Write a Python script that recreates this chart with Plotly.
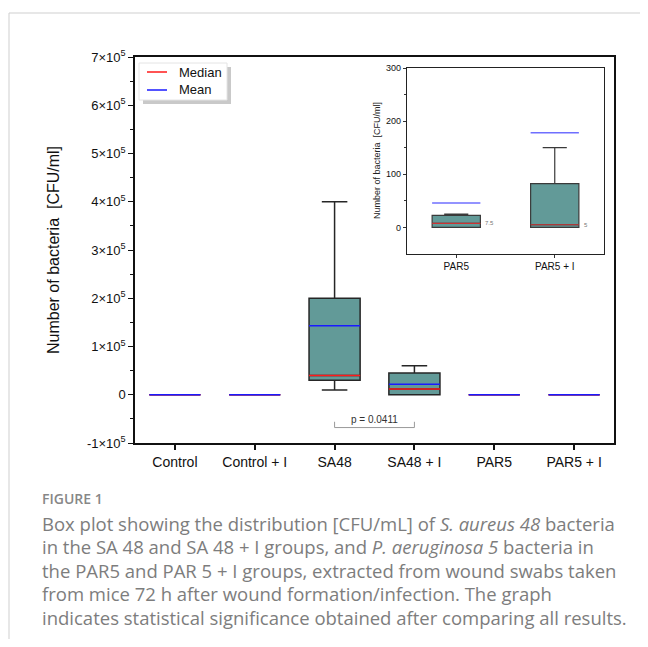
import plotly.graph_objects as go

# ---------------- data ----------------
categories = ["Control", "Control + I", "SA48", "SA48 + I", "PAR5", "PAR5 + I"]
q1_vals = [0, 0, 30000, 0, 0, 0]
median_vals = [0, 0, 40000, 12000, 0, 0]
q3_vals = [0, 0, 200000, 45000, 0, 0]
low_whisker = [0, 0, 10000, 0, 0, 0]
high_whisker = [0, 0, 400000, 60000, 0, 0]
mean_vals = [0, 0, 143000, 22000, 0, 0]

y_tickvals = [-100000, 0, 100000, 200000, 300000, 400000, 500000, 600000, 700000]
y_ticktext = ["-1×10<sup>5</sup>", "0", "1×10<sup>5</sup>", "2×10<sup>5</sup>", "3×10<sup>5</sup>",
              "4×10<sup>5</sup>", "5×10<sup>5</sup>", "6×10<sup>5</sup>", "7×10<sup>5</sup>"]
y_minor = [-50000, 50000, 150000, 250000, 350000, 450000, 550000, 650000]

inset_categories = ["PAR5", "PAR5 + I"]
inset_q1 = [0, 0]
inset_median = [7.5, 5]
inset_q3 = [22.5, 82.5]
inset_low = [0, 0]
inset_high = [25, 150]
inset_mean = [46, 178]
inset_median_labels = ["7.5", "5"]
inset_tickvals = [0, 100, 200, 300]
inset_minor = [50, 150, 250]

p_label = "p = 0.0411"
p_pair = [2, 3]
p_bracket = [-56000, -68000]

legend_names = ["Median", "Mean"]

caption_head = "FIGURE 1"
caption_lines = [
    "Box plot showing the distribution [CFU/mL] of <i>S. aureus 48</i> bacteria",
    "in the SA 48 and SA 48 + I groups, and <i>P. aeruginosa 5</i> bacteria in",
    "the PAR5 and PAR 5 + I groups, extracted from wound swabs taken",
    "from mice 72 h after wound formation/infection. The graph",
    "indicates statistical significance obtained after comparing all results.",
]

# ---------------- layout geometry (page pixels) ----------------
OFF = 8                      # default page body margin
PAGE_W, PAGE_H = 648, 647
W, H = PAGE_W - OFF, PAGE_H - 2 * OFF
L, R, T, B = 135, 614, 57, 443
PW, PH = R - L, B - T


def px(X):
    return (X - L) / PW


def py(Y):
    return (B - Y) / PH


FONT = "Arial, Liberation Sans, sans-serif"
CAP_FONT = "Open Sans, sans-serif"
BOX_FILL = "#629a98"
BOX_LINE = "#262626"
MED_RED = "#ff1a1a"
MEAN_BLUE = "#1a1aff"
BW = 0.64
IBW = 0.49

fig = go.Figure()

# main boxes
fig.add_trace(go.Box(
    x=list(range(len(categories))), q1=q1_vals, median=median_vals, q3=q3_vals,
    lowerfence=low_whisker, upperfence=high_whisker,
    width=BW, whiskerwidth=0.5, fillcolor=BOX_FILL,
    line=dict(color=BOX_LINE, width=1.5), boxpoints=False, showlegend=False,
    hoverinfo="skip", xaxis="x", yaxis="y"))

# median & mean lines (main)
mx, my, ax_, ay_ = [], [], [], []
for i, (md, mn) in enumerate(zip(median_vals, mean_vals)):
    mx += [i - BW / 2, i + BW / 2, None]
    my += [md, md, None]
    ax_ += [i - BW / 2, i + BW / 2, None]
    ay_ += [mn, mn, None]
fig.add_trace(go.Scatter(x=mx, y=my, mode="lines", line=dict(color=MED_RED, width=1.5),
                         name=legend_names[0], showlegend=False, hoverinfo="skip",
                         xaxis="x", yaxis="y"))
fig.add_trace(go.Scatter(x=ax_, y=ay_, mode="lines", line=dict(color=MEAN_BLUE, width=1.5),
                         name=legend_names[1], showlegend=False, hoverinfo="skip",
                         xaxis="x", yaxis="y"))

# significance bracket
fig.add_trace(go.Scatter(
    x=[p_pair[0], p_pair[0], p_pair[1], p_pair[1]],
    y=[p_bracket[0], p_bracket[1], p_bracket[1], p_bracket[0]],
    mode="lines", line=dict(color="#9a9a9a", width=1), showlegend=False,
    hoverinfo="skip", xaxis="x", yaxis="y"))

# inset boxes
fig.add_trace(go.Box(
    x=list(range(len(inset_categories))), q1=inset_q1, median=inset_median, q3=inset_q3,
    lowerfence=inset_low, upperfence=inset_high,
    width=IBW, whiskerwidth=0.5, fillcolor=BOX_FILL,
    line=dict(color="#3a3a3a", width=1.2), boxpoints=False, showlegend=False,
    hoverinfo="skip", xaxis="x2", yaxis="y2"))
imx, imy, iax, iay = [], [], [], []
for i, (md, mn) in enumerate(zip(inset_median, inset_mean)):
    imx += [i - IBW / 2, i + IBW / 2, None]
    imy += [md, md, None]
    iax += [i - IBW / 2, i + IBW / 2, None]
    iay += [mn, mn, None]
fig.add_trace(go.Scatter(x=imx, y=imy, mode="lines", line=dict(color="#cc3333", width=1.2),
                         showlegend=False, hoverinfo="skip", xaxis="x2", yaxis="y2"))
fig.add_trace(go.Scatter(x=iax, y=iay, mode="lines", line=dict(color="#6f6fff", width=1.5),
                         showlegend=False, hoverinfo="skip", xaxis="x2", yaxis="y2"))

annotations = []
for i, (md, lab) in enumerate(zip(inset_median, inset_median_labels)):
    annotations.append(dict(x=i + IBW / 2, y=md, xref="x2", yref="y2", text=lab,
                            showarrow=False, xanchor="left", yanchor="middle", xshift=3,
                            font=dict(family=FONT, size=6, color="#777")))

annotations.append(dict(x=sum(p_pair) / 2, y=p_bracket[0], xref="x", yref="y", text=p_label,
                        showarrow=False, xanchor="center", yanchor="middle", yshift=2,
                        font=dict(family=FONT, size=10, color="#333")))

# axis titles
annotations.append(dict(x=px(53), y=py(250), xref="paper", yref="paper",
                        text="Number of bacteria\u00a0\u00a0[CFU/ml]", textangle=-90,
                        xanchor="center", yanchor="middle",
                        showarrow=False, font=dict(family=FONT, size=16, color="#111")))
annotations.append(dict(x=px(377), y=py(161), xref="paper", yref="paper",
                        text="Number of bacteria\u00a0\u00a0[CFU/ml]", textangle=-90,
                        xanchor="center", yanchor="middle",
                        showarrow=False, font=dict(family=FONT, size=9, color="#222")))

# legend (drawn box with shadow)
leg_y = [72, 90]
leg_colors = [MED_RED, MEAN_BLUE]
shapes = [
    dict(type="rect", xref="paper", yref="paper", x0=px(9), x1=px(700), y0=py(760), y1=py(13),
         line=dict(color="#cfcfcf", width=1), fillcolor="rgba(0,0,0,0)", layer="below"),
    dict(type="rect", xref="paper", yref="paper", x0=px(143), x1=px(231), y0=py(104), y1=py(67),
         line=dict(width=0), fillcolor="#c9c9c9", layer="above"),
    dict(type="rect", xref="paper", yref="paper", x0=px(139), x1=px(227), y0=py(100), y1=py(63),
         line=dict(color="#e4e4e4", width=1), fillcolor="white", layer="above"),
]
for name, yy, col in zip(legend_names, leg_y, leg_colors):
    shapes.append(dict(type="line", xref="paper", yref="paper", x0=px(147), x1=px(167),
                       y0=py(yy), y1=py(yy), line=dict(color=col, width=1.5), layer="above"))
    annotations.append(dict(x=px(177), y=py(yy), xref="paper", yref="paper", text=name,
                            showarrow=False, xanchor="left", yanchor="middle",
                            font=dict(family=FONT, size=13, color="#111")))

# caption
annotations.append(dict(x=px(40), y=py(498), xref="paper", yref="paper", text=caption_head,
                        showarrow=False, xanchor="left", yanchor="middle",
                        font=dict(family=CAP_FONT, size=14, color="#878787", weight=600)))
for k, line in enumerate(caption_lines):
    annotations.append(dict(x=px(40), y=py(523 + 23.5 * k), xref="paper", yref="paper",
                            text=line, showarrow=False, xanchor="left", yanchor="middle",
                            font=dict(family=CAP_FONT, size=18.5, color="#7d7d7d")))

fig.update_layout(
    width=W, height=H,
    margin=dict(l=L - OFF, r=(W + OFF) - R, t=T - OFF, b=(H + OFF) - B),
    paper_bgcolor="white", plot_bgcolor="white",
    font=dict(family=FONT, color="#111"),
    showlegend=False,
    xaxis=dict(range=[-0.5, len(categories) - 0.5], tickmode="array",
               tickvals=list(range(len(categories))), ticktext=categories,
               ticks="outside", ticklen=5, tickwidth=1.5, tickcolor="#111",
               showgrid=False, zeroline=False, showline=True, mirror=True,
               linecolor="#111", linewidth=1.5,
               tickfont=dict(family=FONT, size=14, color="#111"), domain=[0, 1]),
    yaxis=dict(range=[-100000, 700000], tickmode="array", tickvals=y_tickvals, ticktext=y_ticktext,
               ticks="outside", ticklen=5, tickwidth=1.2, tickcolor="#111",
               minor=dict(tickmode="array", tickvals=y_minor, ticks="outside", ticklen=3,
                          tickwidth=1, tickcolor="#111", showgrid=False),
               showgrid=False, zeroline=False, showline=True, mirror=True,
               linecolor="#111", linewidth=1.5,
               tickfont=dict(family=FONT, size=13, color="#111"), domain=[0, 1]),
    xaxis2=dict(range=[-0.5, len(inset_categories) - 0.5], tickmode="array",
                tickvals=list(range(len(inset_categories))), ticktext=inset_categories,
                ticks="outside", ticklen=3, tickwidth=1, tickcolor="#333",
                showgrid=False, zeroline=False, showline=True, mirror=True,
                linecolor="#222", linewidth=1.2,
                tickfont=dict(family=FONT, size=10, color="#111"),
                domain=[px(407), px(604)], anchor="y2"),
    yaxis2=dict(range=[-50, 300], tickmode="array", tickvals=inset_tickvals,
                ticks="outside", ticklen=3, tickwidth=1, tickcolor="#333",
                minor=dict(tickmode="array", tickvals=inset_minor, ticks="outside", ticklen=2,
                           tickwidth=1, tickcolor="#333", showgrid=False),
                showgrid=False, zeroline=False, showline=True, mirror=True,
                linecolor="#222", linewidth=1.2,
                tickfont=dict(family=FONT, size=9, color="#111"),
                domain=[py(254), py(68)], anchor="x2"),
    annotations=annotations,
    shapes=shapes,
)

fig.write_html("out.html")
